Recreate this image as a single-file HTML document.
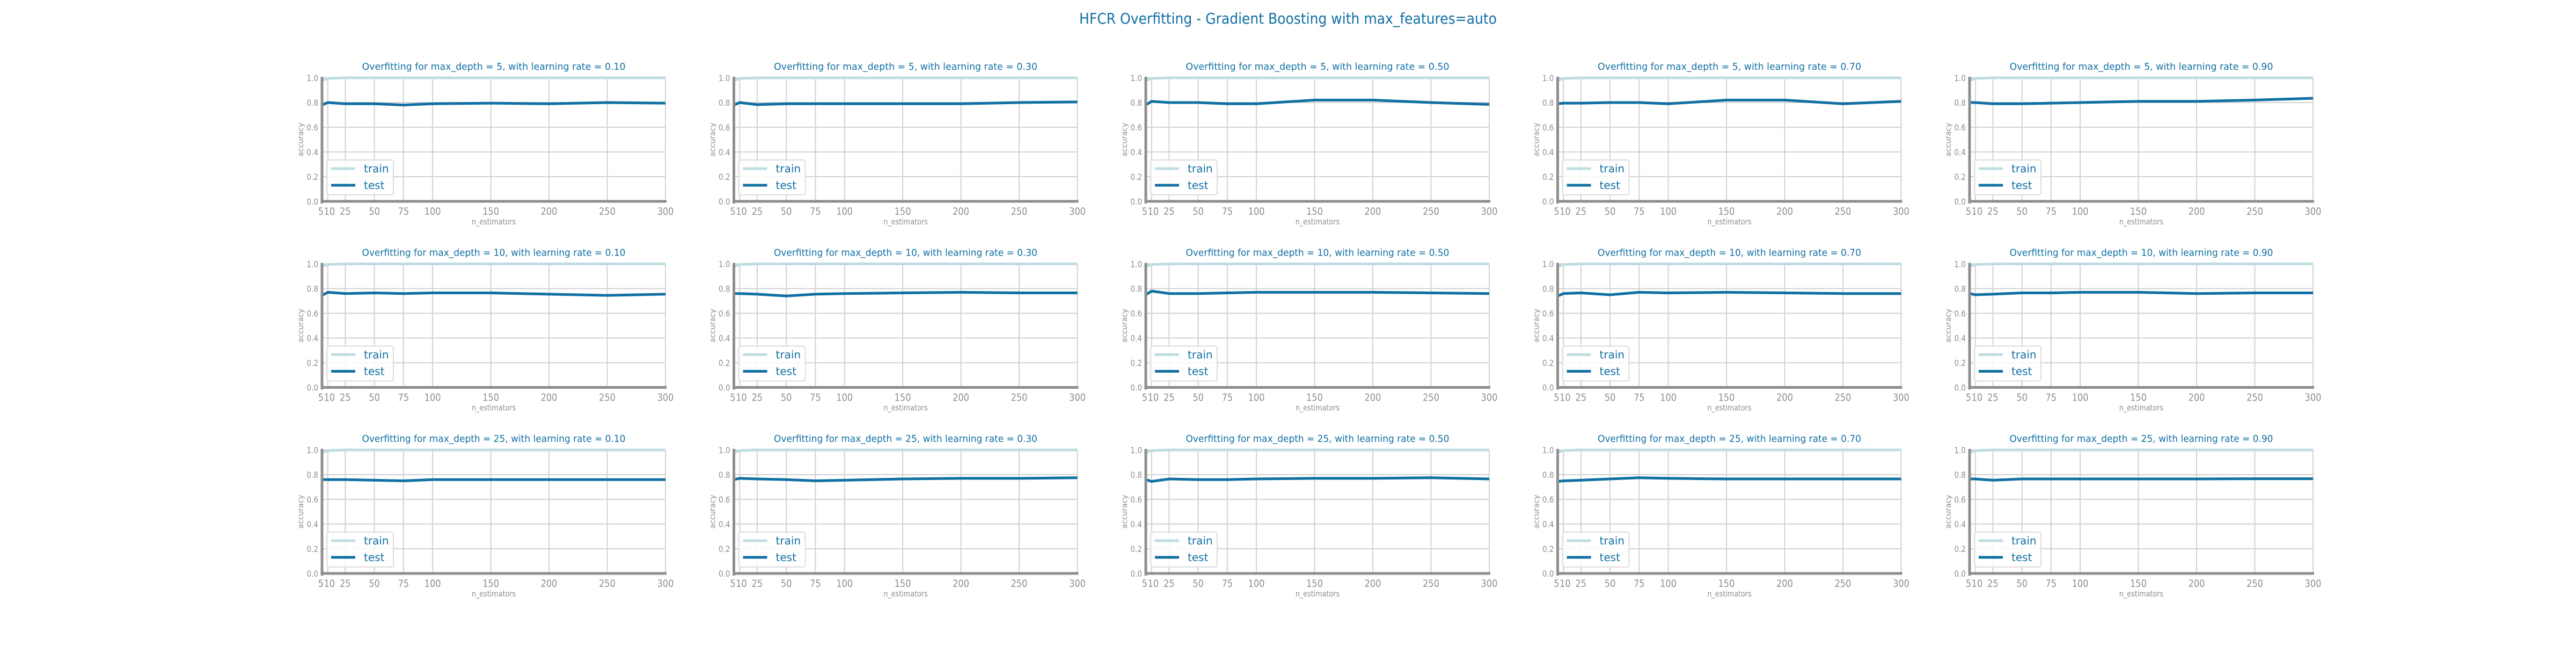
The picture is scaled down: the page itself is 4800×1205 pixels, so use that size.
<!DOCTYPE html>
<html><head><meta charset="utf-8"><style>
body{margin:0;background:#fff}
svg text{font-family:"DejaVu Sans","Liberation Sans",sans-serif}
</style></head><body>
<svg id="fig" width="4800" height="1200" xmlns="http://www.w3.org/2000/svg">
<text x="2400" y="44" text-anchor="middle" font-size="28" fill="#1170a3" textLength="778" lengthAdjust="spacingAndGlyphs">HFCR Overfitting - Gradient Boosting with max_features=auto</text>
</svg>
<script>
const nEstimators=[5,10,25,50,75,100,150,200,250,300];
const xTicks=[5,10,25,50,75,100,150,200,250,300];
const yTicks=[0,0.2,0.4,0.6,0.8,1.0];
const depths=[5,10,25];
const rates=["0.10","0.30","0.50","0.70","0.90"];
const trainAcc=[0.98,0.995,1,1,1,1,1,1,1,1];
const test_d5_r1=[0.78,0.80,0.79,0.79,0.78,0.79,0.795,0.79,0.80,0.795];
const test_d5_r3=[0.78,0.80,0.783,0.79,0.79,0.79,0.79,0.79,0.80,0.805];
const test_d5_r5=[0.78,0.81,0.80,0.80,0.79,0.79,0.82,0.82,0.80,0.785];
const test_d5_r7=[0.79,0.795,0.795,0.80,0.80,0.79,0.82,0.82,0.79,0.81];
const test_d5_r9=[0.80,0.80,0.79,0.79,0.795,0.80,0.81,0.81,0.82,0.835];
const test_d10_r1=[0.745,0.77,0.76,0.765,0.76,0.765,0.765,0.755,0.745,0.755];
const test_d10_r3=[0.76,0.76,0.755,0.74,0.755,0.76,0.765,0.77,0.765,0.765];
const test_d10_r5=[0.75,0.78,0.76,0.76,0.765,0.77,0.77,0.77,0.765,0.76];
const test_d10_r7=[0.74,0.76,0.765,0.75,0.77,0.765,0.77,0.765,0.76,0.76];
const test_d10_r9=[0.76,0.75,0.755,0.765,0.765,0.77,0.77,0.76,0.765,0.765];
const test_d25_r1=[0.76,0.76,0.76,0.755,0.75,0.76,0.76,0.76,0.76,0.76];
const test_d25_r3=[0.76,0.77,0.765,0.76,0.75,0.755,0.765,0.77,0.77,0.775];
const test_d25_r5=[0.76,0.745,0.765,0.76,0.76,0.765,0.77,0.77,0.775,0.765];
const test_d25_r7=[0.745,0.75,0.755,0.765,0.775,0.77,0.765,0.765,0.765,0.765];
const test_d25_r9=[0.765,0.765,0.755,0.765,0.765,0.765,0.765,0.765,0.767,0.767];
const testSeries=[[test_d5_r1,test_d5_r3,test_d5_r5,test_d5_r7,test_d5_r9],
[test_d10_r1,test_d10_r3,test_d10_r5,test_d10_r7,test_d10_r9],
[test_d25_r1,test_d25_r3,test_d25_r5,test_d25_r7,test_d25_r9]];

const svg=document.getElementById('fig');
const NS='http://www.w3.org/2000/svg';
function mk(tag,attrs,parent){const e=document.createElementNS(NS,tag);for(const k in attrs)e.setAttribute(k,attrs[k]);(parent||svg).appendChild(e);return e;}
const W=640,H=230;
for(let r=0;r<3;r++){for(let c=0;c<5;c++){
 const L=600+c*767.5, T=145+r*346.5, B=T+H;
 const g=mk('g',{});
 
 
 const xs=v=>L+(v-5)/295*W, ys=v=>B-v*H;
 for(const t of xTicks){const l=mk('line',{x1:xs(t),x2:xs(t),y1:T,y2:B,stroke:'#d2d2d2','stroke-width':2},g);
  
  const px=xs(t)+(t===5?-2:t===10?3:0);
  const tx=mk('text',{x:0,y:0,'text-anchor':'middle','font-size':19,fill:'#8e8e8e',transform:`translate(${px},${B+25}) scale(0.85,1)`},g);tx.textContent=t;
  }
 for(const t of yTicks){const l=mk('line',{x1:L,x2:L+W,y1:ys(t),y2:ys(t),stroke:'#d2d2d2','stroke-width':2},g);
  
  const tx=mk('text',{x:0,y:0,'text-anchor':'end','font-size':16,fill:'#8e8e8e',transform:`translate(${L-7},${ys(t)+6}) scale(0.85,1)`},g);tx.textContent=t.toFixed(1);
  }
 const tt=mk('text',{x:L+W/2,y:T-15,'text-anchor':'middle','font-size':18,fill:'#1170a3',textLength:491,lengthAdjust:'spacingAndGlyphs'},g);
 tt.textContent='Overfitting for max_depth = '+depths[r]+', with learning rate = '+rates[c];
 
 const xl=mk('text',{x:0,y:0,'text-anchor':'middle','font-size':15,fill:'#8e8e8e',transform:`translate(${L+W/2},${B+43}) scale(0.85,1)`},g);xl.textContent='n_estimators';
 
 const yl=mk('text',{x:0,y:0,'text-anchor':'middle','font-size':14,fill:'#8e8e8e',transform:`translate(${L-35},${(T+B)/2}) rotate(-90)`},g);yl.textContent='accuracy';
 
 const pts=a=>a.map((v,i)=>xs(nEstimators[i])+','+ys(v)).join(' ');
 const tr=mk('polyline',{points:pts(trainAcc),fill:'none',stroke:'#bfdde1','stroke-width':5,'stroke-linejoin':'round'},g);
 
 const te=mk('polyline',{points:pts(testSeries[r][c]),fill:'none',stroke:'#1170a3','stroke-width':5,'stroke-linejoin':'round'},g);
 
 const sp1=mk('line',{x1:L,x2:L,y1:T-2,y2:B+4,stroke:'#8e8e8e','stroke-width':5},g);
 
 const sp2=mk('line',{x1:L-2,x2:L+W+2,y1:B,y2:B,stroke:'#8e8e8e','stroke-width':5},g);
 
 const lg=mk('g',{},g);
 
 mk('rect',{x:L+9,y:T+153,width:124,height:65,rx:4,fill:'#fff','fill-opacity':0.85,stroke:'#dcdcdc','stroke-width':2},lg);
 mk('line',{x1:L+17,x2:L+62,y1:T+169,y2:T+169,stroke:'#bfdde1','stroke-width':5},lg);
 mk('line',{x1:L+17,x2:L+62,y1:T+200,y2:T+200,stroke:'#1170a3','stroke-width':5},lg);
 const t1=mk('text',{x:L+78,y:T+176,'font-size':20,fill:'#1170a3'},lg);t1.textContent='train';
 
 const t2=mk('text',{x:L+78,y:T+207,'font-size':20,fill:'#1170a3'},lg);t2.textContent='test';
 
}}
</script>
</body></html>
